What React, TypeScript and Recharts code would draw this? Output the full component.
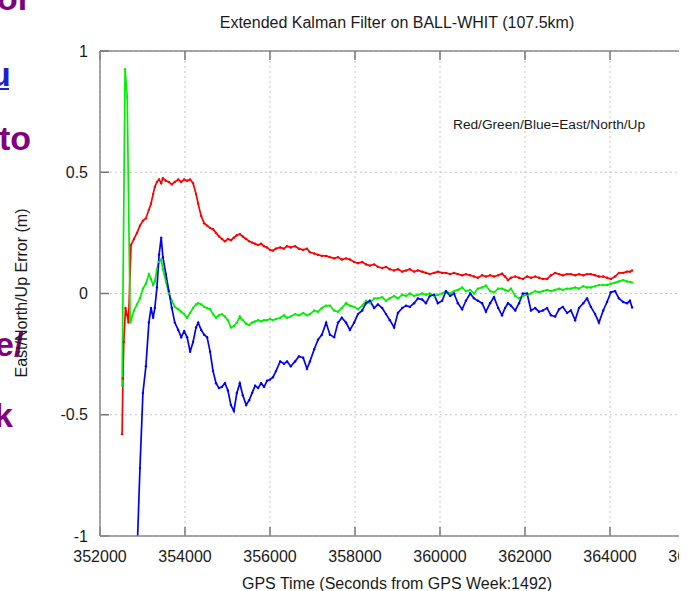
import React from "react";
import { LineChart, Line, XAxis, YAxis, CartesianGrid, ReferenceLine } from "recharts";

// GPS time (s) of each plotted epoch
const times = [
  352520, 352540, 352560, 352590, 352600, 352640, 352670, 352710, 352730, 352800,
  352870, 352940, 353010, 353080, 353150, 353200, 353250, 353290, 353340, 353390,
  353440, 353480, 353550, 353620, 353690, 353760, 353840, 353910, 353980, 354050,
  354120, 354190, 354260, 354310, 354380, 354450, 354520, 354590, 354660, 354730,
  354800, 354870, 354940, 355010, 355080, 355150, 355220, 355290, 355360, 355440,
  355510, 355580, 355650, 355720, 355790, 355860, 355930, 356000, 356070, 356140,
  356240, 356330, 356400, 356490, 356590, 356680, 356780, 356870, 356940, 357040,
  357130, 357220, 357320, 357410, 357510, 357600, 357690, 357790, 357880, 357980,
  358070, 358170, 358260, 358350, 358450, 358540, 358640, 358730, 358820, 358920,
  359010, 359110, 359200, 359290, 359390, 359480, 359580, 359670, 359760, 359860,
  359950, 360050, 360140, 360240, 360330, 360420, 360520, 360610, 360710, 360800,
  360890, 360990, 361080, 361180, 361270, 361370, 361460, 361530, 361600, 361670,
  361770, 361860, 361950, 362050, 362140, 362240, 362330, 362420, 362520, 362610,
  362710, 362800, 362890, 362990, 363080, 363180, 363270, 363370, 363460, 363550,
  363650, 363740, 363840, 363930, 364020, 364120, 364210, 364310, 364400, 364470,
  364520,
];

// East error (m), red
const east = [
  -0.58, -0.35, -0.2, null, -0.06, -0.09, -0.12, null, 0.2, 0.225,
  0.25, 0.28, 0.3, 0.31, 0.345, 0.37, 0.41, 0.44, 0.46, 0.47,
  0.455, 0.475, 0.465, 0.46, 0.45, 0.46, 0.47, 0.46, 0.47, 0.465,
  0.47, 0.455, 0.41, 0.37, 0.32, 0.29, 0.28, 0.27, 0.265, 0.25,
  0.235, 0.225, 0.215, 0.225, 0.22, 0.23, 0.24, 0.245, 0.235, 0.225,
  0.215, 0.21, 0.205, 0.2, 0.205, 0.195, 0.19, 0.18, 0.177, 0.185,
  0.19, 0.185, 0.195, 0.19, 0.195, 0.185, 0.18, 0.185, 0.17, 0.165,
  0.16, 0.155, 0.155, 0.15, 0.145, 0.15, 0.14, 0.145, 0.14, 0.13,
  0.125, 0.13, 0.12, 0.115, 0.12, 0.11, 0.105, 0.11, 0.1, 0.095,
  0.1, 0.09, 0.095, 0.1, 0.09, 0.095, 0.09, 0.085, 0.08, 0.085,
  0.09, 0.085, 0.085, 0.08, 0.085, 0.08, 0.075, 0.08, 0.075, 0.07,
  0.065, 0.075, 0.07, 0.075, 0.07, 0.075, 0.082, 0.07, 0.055, 0.065,
  0.07, 0.065, 0.06, 0.07, 0.065, 0.07, 0.065, 0.06, 0.06, 0.075,
  0.085, 0.08, 0.075, 0.08, 0.08, 0.075, 0.08, 0.075, 0.08, 0.08,
  0.075, 0.07, 0.07, 0.065, 0.06, 0.07, 0.085, 0.085, 0.09, 0.09,
  0.095,
];

// North error (m), green
const north = [
  -0.38, null, null, 0.925, null, 0.81, null, -0.12, -0.11, -0.07,
  -0.045, -0.02, 0.02, 0.04, 0.08, 0.06, 0.035, 0.05, 0.1, 0.13,
  0.14, 0.1, 0.05, 0.0, -0.03, -0.055, -0.065, -0.075, -0.085, -0.1,
  -0.08, -0.06, -0.045, -0.04, -0.045, -0.055, -0.06, -0.065, -0.085, -0.1,
  -0.09, -0.085, -0.095, -0.11, -0.14, -0.135, -0.12, -0.095, -0.11, -0.125,
  -0.13, -0.12, -0.115, -0.11, -0.115, -0.11, -0.11, -0.105, -0.11, -0.105,
  -0.1, -0.09, -0.1, -0.095, -0.085, -0.09, -0.08, -0.09, -0.085, -0.07,
  -0.075, -0.06, -0.05, -0.05, -0.07, -0.075, -0.06, -0.04, -0.05, -0.055,
  -0.065, -0.05, -0.03, -0.04, -0.02, -0.02, -0.015, -0.03, -0.02, -0.01,
  -0.02, -0.005, -0.01, 0.0, -0.01, -0.005, 0.0, -0.005, 0.0, -0.01,
  -0.005, 0.0, 0.01, 0.0, 0.01, 0.015, 0.025, 0.01, 0.015, 0.0,
  0.02, 0.025, 0.033, 0.01, 0.005, 0.02, 0.02, 0.015, 0.01, 0.02,
  -0.01, -0.02, -0.01, -0.005, 0.0, 0.01, 0.005, 0.01, 0.015, 0.01,
  0.015, 0.02, 0.015, 0.02, 0.02, 0.025, 0.02, 0.03, 0.025, 0.025,
  0.03, 0.035, 0.035, 0.035, 0.04, 0.045, 0.05, 0.055, 0.05, 0.048,
  0.045,
];

// Up error (m), blue
const up = [
  null, null, null, null, null, null, null, null, null, null,
  -1.08, -0.72, -0.41, -0.3, -0.12, -0.06, -0.1, -0.06, 0.025, 0.16,
  0.23, 0.15, 0.08, 0.01, -0.06, -0.12, -0.15, -0.18, -0.155, -0.18,
  -0.24, -0.2, -0.14, -0.12, -0.15, -0.17, -0.18, -0.24, -0.32, -0.37,
  -0.39, -0.385, -0.37, -0.4, -0.46, -0.485, -0.41, -0.37, -0.42, -0.46,
  -0.44, -0.41, -0.38, -0.39, -0.37, -0.385, -0.36, -0.355, -0.345, -0.32,
  -0.28, -0.29, -0.28, -0.3, -0.28, -0.26, -0.265, -0.31, -0.28, -0.23,
  -0.19, -0.17, -0.12, -0.17, -0.18, -0.12, -0.1, -0.12, -0.15, -0.12,
  -0.085, -0.07, -0.04, -0.03, -0.06, -0.045, -0.06, -0.085, -0.11, -0.14,
  -0.08, -0.06, -0.05, -0.055, -0.04, -0.02, -0.025, -0.04, -0.01, -0.005,
  -0.04, -0.03, 0.01, -0.01, 0.0, -0.04, -0.065, -0.03, 0.0, -0.02,
  -0.03, -0.04, -0.075, -0.04, -0.015, -0.06, -0.09, -0.06, -0.04, -0.05,
  -0.07, -0.04, 0.0, 0.0, -0.07, -0.06, -0.075, -0.07, -0.06, -0.09,
  -0.095, -0.065, -0.055, -0.08, -0.07, -0.11, -0.06, -0.04, -0.02, -0.055,
  -0.085, -0.12, -0.07, -0.035, 0.005, 0.01, -0.02, -0.035, -0.04, -0.03,
  -0.058,
];

const xTicks = [352000, 354000, 356000, 358000, 360000, 362000, 364000, 366000];
const yTicks = [-1, -0.5, 0, 0.5, 1];

const rows = times.map((t, i) => ({ t, east: east[i], north: north[i], up: up[i] }));

const X_MIN = 352000;
const X_MAX = 366000;
const Y_MIN = -1;
const Y_MAX = 1;
// inward tick length (~9px) expressed in axis units
const TICK_X = 212;
const TICK_Y = 0.037;

const FONT = '"Liberation Sans", Arial, Helvetica, sans-serif';
const SLIDE_FONT = '"Liberation Sans Narrow", "Liberation Sans", Arial, sans-serif';
const FRAME = "#8a8a8a";
const tickText = { fontSize: 16, fill: "#1a1a1a", fontFamily: FONT };

export default function App() {
  return (
    <div
      style={{
        position: "fixed",
        left: 0,
        top: 0,
        width: 679,
        height: 591,
        overflow: "hidden",
        background: "#fff",
      }}
    >
      <div style={{ position: "absolute", left: 0, top: 0 }}>
        <LineChart
          width={720}
          height={591}
          data={rows}
          margin={{ top: 51, right: 25, left: 40, bottom: 0 }}
        >
          <CartesianGrid stroke="#c4c4c4" strokeDasharray="2 3" />
          <XAxis
            dataKey="t"
            type="number"
            domain={[X_MIN, X_MAX]}
            ticks={xTicks}
            allowDataOverflow
            height={55}
            tickLine={false}
            tickSize={0}
            tickMargin={15}
            stroke={FRAME}
            strokeWidth={1.5}
            tick={tickText}
            interval={0}
          />
          <YAxis
            type="number"
            domain={[Y_MIN, Y_MAX]}
            ticks={yTicks}
            allowDataOverflow
            width={60}
            tickLine={false}
            tickSize={0}
            tickMargin={12}
            stroke={FRAME}
            strokeWidth={1.5}
            tick={tickText}
            interval={0}
          />
          {/* top frame edge */}
          <ReferenceLine y={Y_MAX} stroke={FRAME} strokeWidth={1.5} />
          {/* inward tick marks on top, bottom and left edges */}
          {xTicks.map((t) => (
            <ReferenceLine
              key={"tt" + t}
              segment={[{ x: t, y: Y_MAX }, { x: t, y: Y_MAX - TICK_Y }]}
              stroke="#777"
              strokeWidth={1.5}
            />
          ))}
          {xTicks.map((t) => (
            <ReferenceLine
              key={"bt" + t}
              segment={[{ x: t, y: Y_MIN }, { x: t, y: Y_MIN + TICK_Y }]}
              stroke="#777"
              strokeWidth={1.5}
            />
          ))}
          {yTicks.map((v) => (
            <ReferenceLine
              key={"lt" + v}
              segment={[{ x: X_MIN, y: v }, { x: X_MIN + TICK_X, y: v }]}
              stroke="#777"
              strokeWidth={1.5}
            />
          ))}
          <Line
            dataKey="east"
            stroke="#ff0000"
            strokeWidth={1.7}
            dot={{ r: 1.2, fill: "#ff0000", strokeWidth: 0 }}
            connectNulls
            isAnimationActive={false}
          />
          <Line
            dataKey="north"
            stroke="#00ee00"
            strokeWidth={1.7}
            dot={{ r: 1.2, fill: "#00ee00", strokeWidth: 0 }}
            connectNulls
            isAnimationActive={false}
          />
          <Line
            dataKey="up"
            stroke="#0000ff"
            strokeWidth={1.7}
            dot={{ r: 1.2, fill: "#0000ff", strokeWidth: 0 }}
            connectNulls
            isAnimationActive={false}
          />
        </LineChart>
      </div>

      <svg
        width={679}
        height={591}
        style={{ position: "absolute", left: 0, top: 0, pointerEvents: "none" }}
      >
        <g fontFamily={SLIDE_FONT} fontWeight="bold" fontSize={34} fill="#800080">
          <text x={-3} y={10}>or</text>
          <text x={-10} y={86} fill="#1f1fd0">u</text>
          <text x={-1} y={150}>to</text>
          <text x={-5} y={356}>e/</text>
          <text x={-6} y={427}>k</text>
        </g>
        <line x1={0} y1={89} x2={9} y2={89} stroke="#1f1fd0" strokeWidth={2} />
        <g fontFamily={FONT} fill="#1a1a1a">
          <text x={397} y={28} fontSize={16} textAnchor="middle">
            Extended Kalman Filter on BALL-WHIT (107.5km)
          </text>
          <text x={453} y={129} fontSize={13.7}>
            Red/Green/Blue=East/North/Up
          </text>
          <text x={397} y={589} fontSize={16} textAnchor="middle">
            GPS Time (Seconds from GPS Week:1492)
          </text>
          <text
            x={27}
            y={293}
            fontSize={16}
            textAnchor="middle"
            transform="rotate(-90 27 293)"
          >
            East/North/Up Error (m)
          </text>
        </g>
      </svg>
    </div>
  );
}
